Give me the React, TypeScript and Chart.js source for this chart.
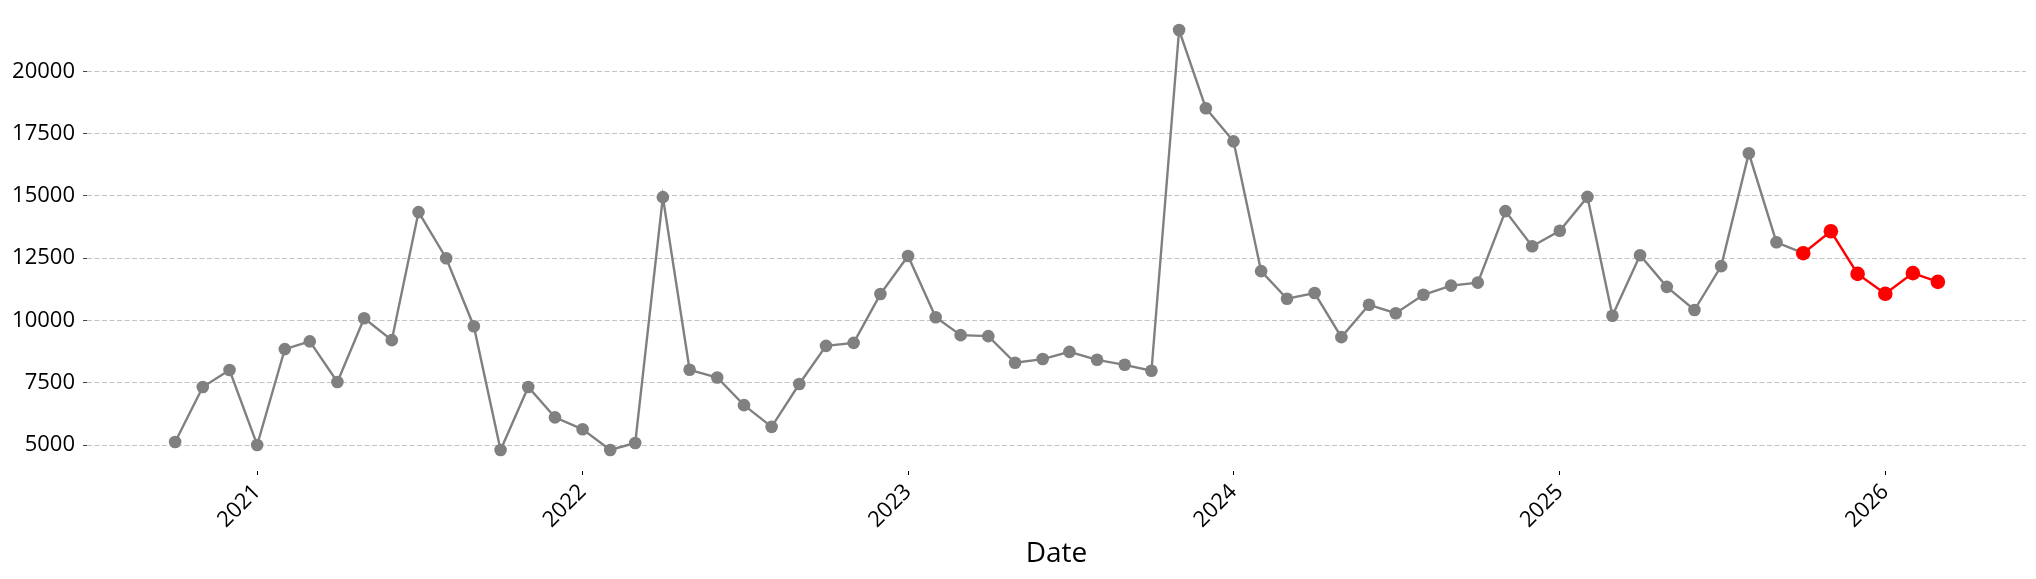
import { useEffect, useRef } from "react";
import { Chart, registerables } from "chart.js";

Chart.register(...registerables);

// ---- data ----
const actualDates = [
  "2020-10", "2020-11", "2020-12",
  "2021-01", "2021-02", "2021-03", "2021-04", "2021-05", "2021-06",
  "2021-07", "2021-08", "2021-09", "2021-10", "2021-11", "2021-12",
  "2022-01", "2022-02", "2022-03", "2022-04", "2022-05", "2022-06",
  "2022-07", "2022-08", "2022-09", "2022-10", "2022-11", "2022-12",
  "2023-01", "2023-02", "2023-03", "2023-04", "2023-05", "2023-06",
  "2023-07", "2023-08", "2023-09", "2023-10", "2023-11", "2023-12",
  "2024-01", "2024-02", "2024-03", "2024-04", "2024-05", "2024-06",
  "2024-07", "2024-08", "2024-09", "2024-10", "2024-11", "2024-12",
  "2025-01", "2025-02", "2025-03", "2025-04", "2025-05", "2025-06",
  "2025-07", "2025-08", "2025-09", "2025-10",
];
const actualValues = [
  5120, 7330, 8010,
  5000, 8850, 9160, 7530, 10090, 9210,
  14350, 12500, 9770, 4800, 7330, 6110,
  5630, 4800, 5080, 14950, 8020, 7710,
  6600, 5730, 7450, 8980, 9100, 11060,
  12590, 10130, 9410, 9370, 8300, 8450,
  8740, 8420, 8220, 7980, 21660, 18520,
  17190, 11980, 10870, 11100, 9330, 10630,
  10290, 11030, 11400, 11520, 14390, 12980,
  13600, 14960, 10190, 12620, 11350, 10420,
  12180, 16710, 13140, 12700,
];
const forecastDates = ["2025-10", "2025-11", "2025-12", "2026-01", "2026-02", "2026-03"];
const forecastValues = [12700, 13580, 11870, 11070, 11900, 11550];
const yearTicks = ["2021", "2022", "2023", "2024", "2025", "2026"];
const yTicks = [5000, 7500, 10000, 12500, 15000, 17500, 20000];

const FONT = "'Open Sans'";

const toTs = (m: string) => {
  const [y, mo] = m.split("-").map(Number);
  return Date.UTC(y, mo - 1, 1);
};

export default function App() {
  const ref = useRef<HTMLCanvasElement>(null);

  useEffect(() => {
    document.body.style.margin = "0";
    const canvas = ref.current;
    if (!canvas) return;

    const actual = actualDates.map((d, i) => ({ x: toTs(d), y: actualValues[i] }));
    const forecast = forecastDates.map((d, i) => ({ x: toTs(d), y: forecastValues[i] }));
    const xs = [...actual, ...forecast].map((p) => p.x);
    const ys = [...actual, ...forecast].map((p) => p.y);
    const x0 = Math.min(...xs), x1 = Math.max(...xs);
    const y0 = Math.min(...ys), y1 = Math.max(...ys);
    const xm = (x1 - x0) * 0.05, ym = (y1 - y0) * 0.05;

    const chart = new Chart(canvas, {
      type: "line",
      data: {
        datasets: [
          {
            data: actual,
            order: 2,
            borderColor: "#808080",
            backgroundColor: "#808080",
            pointBackgroundColor: "#808080",
            pointBorderColor: "#808080",
            pointRadius: 6.3,
            pointBorderWidth: 0,
            borderWidth: 2.4,
            tension: 0,
          },
          {
            data: forecast,
            order: 1,
            borderColor: "#ff0000",
            backgroundColor: "#ff0000",
            pointBackgroundColor: "#ff0000",
            pointBorderColor: "#ff0000",
            pointRadius: 7.3,
            pointBorderWidth: 0,
            borderWidth: 2.4,
            tension: 0,
          },
        ],
      },
      options: {
        responsive: false,
        animation: false,
        devicePixelRatio: 1,
        layout: { padding: { top: 9, right: 10, left: 0, bottom: 0 } },
        plugins: { legend: { display: false }, tooltip: { enabled: false } },
        scales: {
          x: {
            type: "linear",
            min: x0 - xm,
            max: x1 + xm,
            border: { display: false },
            grid: {
              drawOnChartArea: false,
              drawTicks: true,
              tickLength: 4,
              tickColor: "#000",
              tickWidth: 1,
            },
            afterBuildTicks: (s: any) => {
              s.ticks = yearTicks.map((y) => ({ value: Date.UTC(Number(y), 0, 1) }));
            },
            ticks: {
              autoSkip: false,
              minRotation: 45,
              maxRotation: 45,
              color: "#000",
              padding: 4,
              font: { family: FONT, size: 22 },
              callback: (v: any) => String(new Date(Number(v)).getUTCFullYear()),
            },
            title: {
              display: true,
              text: "Date",
              color: "#000",
              font: { family: FONT, size: 28 },
              padding: { top: 0, bottom: 8 },
            },
            afterFit: (s: any) => {
              s.height = 108;
              s.paddingLeft = 0;
              s.paddingRight = 0;
            },
          },
          y: {
            type: "linear",
            min: y0 - ym,
            max: y1 + ym,
            border: { display: false, dash: [5, 2.5] },
            grid: {
              color: "#c4c4c4",
              lineWidth: 1,
              drawTicks: true,
              tickLength: 4,
              tickColor: "#444",
              tickWidth: 1,
            },
            afterBuildTicks: (s: any) => {
              s.ticks = yTicks.map((v) => ({ value: v }));
            },
            ticks: {
              color: "#000",
              padding: 8,
              font: { family: FONT, size: 22 },
              callback: (v: any) => String(v),
            },
            afterFit: (s: any) => {
              s.width = 87;
              s.paddingTop = 0;
              s.paddingBottom = 0;
            },
          },
        },
      },
    } as any);

    return () => chart.destroy();
  }, []);

  return (
    <div style={{ width: 2036, height: 579 }}>
      <canvas ref={ref} width={2036} height={579} style={{ display: "block" }} />
    </div>
  );
}
